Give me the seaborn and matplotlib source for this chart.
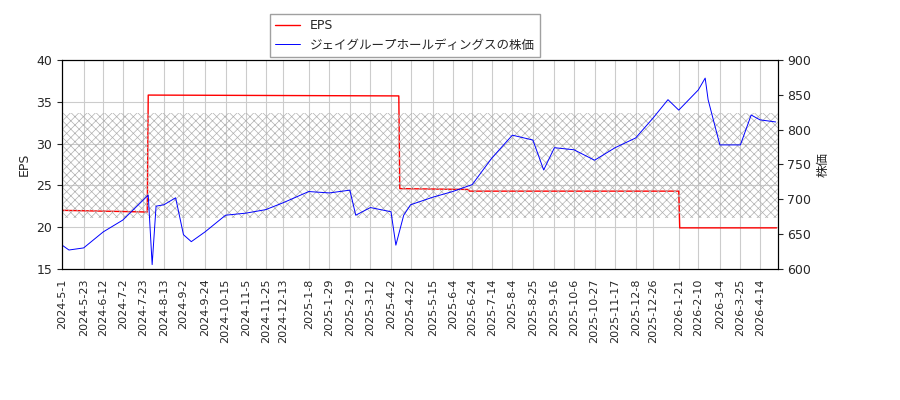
import pandas as pd
import matplotlib
matplotlib.use('Agg')
import matplotlib.pyplot as plt
import seaborn as sns

sns.set_style('white')
plt.rcParams['font.family'] = ['DejaVu Sans', 'Noto Sans CJK JP']
plt.rcParams['hatch.linewidth'] = 0.5

# EPS (step series)
eps_dates = ['2024-05-01', '2024-07-27', '2024-07-28', '2025-04-10', '2025-04-11', '2025-06-20',
             '2025-06-21', '2026-01-21', '2026-01-22', '2026-05-01']
eps_vals = [22.0, 21.8, 35.8, 35.7, 24.6, 24.5, 24.3, 24.3, 19.9, 19.9]

# share price
price_dates = ['2024-05-01', '2024-05-08', '2024-05-23', '2024-06-12', '2024-07-02', '2024-07-23',
               '2024-07-28', '2024-08-01', '2024-08-05', '2024-08-13', '2024-08-25', '2024-09-02',
               '2024-09-10', '2024-09-24', '2024-10-15', '2024-11-05', '2024-11-25', '2024-12-13',
               '2025-01-08', '2025-01-29', '2025-02-19', '2025-02-25', '2025-03-12', '2025-04-02',
               '2025-04-07', '2025-04-15', '2025-04-22', '2025-05-15', '2025-06-04', '2025-06-24',
               '2025-07-14', '2025-08-04', '2025-08-25', '2025-09-05', '2025-09-16', '2025-10-06',
               '2025-10-27', '2025-11-17', '2025-12-08', '2025-12-26', '2026-01-10', '2026-01-21',
               '2026-02-10', '2026-02-17', '2026-02-20', '2026-03-04', '2026-03-25', '2026-04-05',
               '2026-04-14', '2026-04-30']
price_vals = [634, 627, 630, 653, 670, 699, 706, 606, 690, 692, 702, 649, 639, 653, 677, 680,
              685, 695, 711, 709, 713, 677, 688, 682, 634, 677, 692, 703, 711, 721, 759, 792,
              785, 742, 774, 771, 756, 774, 788, 817, 843, 828, 857, 874, 843, 778, 778, 821,
              814, 811]

tick_labels = ['2024-5-1', '2024-5-23', '2024-6-12', '2024-7-2', '2024-7-23', '2024-8-13', '2024-9-2',
               '2024-9-24', '2024-10-15', '2024-11-5', '2024-11-25', '2024-12-13', '2025-1-8',
               '2025-1-29', '2025-2-19', '2025-3-12', '2025-4-2', '2025-4-22', '2025-5-15', '2025-6-4',
               '2025-6-24', '2025-7-14', '2025-8-4', '2025-8-25', '2025-9-16', '2025-10-6',
               '2025-10-27', '2025-11-17', '2025-12-8', '2025-12-26', '2026-1-21', '2026-2-10',
               '2026-3-4', '2026-3-25', '2026-4-14']

eps = pd.DataFrame({'date': pd.to_datetime(eps_dates), 'EPS': eps_vals})
price = pd.DataFrame({'date': pd.to_datetime(price_dates), 'price': price_vals})
ticks = pd.to_datetime(tick_labels)

fig = plt.figure(figsize=(9, 4), dpi=100)
ax1 = fig.add_axes([0.069, 0.328, 0.795, 0.522])
ax2 = ax1.twinx()

x0, x1 = pd.Timestamp('2024-05-01'), pd.Timestamp('2026-05-02')
ax2.fill_between([x0, x1], 673, 824, facecolor='none', edgecolor='#b0b0b0', hatch='xxxx', linewidth=0)

sns.lineplot(data=eps, x='date', y='EPS', ax=ax1, color='red', linewidth=1, label='EPS', legend=False)
sns.lineplot(data=price, x='date', y='price', ax=ax2, color='blue', linewidth=0.7,
             label='ジェイグループホールディングスの株価', legend=False)

ax1.set_xlim(x0, x1)
ax1.set_ylim(15, 40)
ax2.set_ylim(600, 900)
ax1.set_xticks(ticks)
ax1.set_xticklabels(tick_labels, rotation=90, fontsize=8)
ax1.tick_params(axis='y', labelsize=9)
ax2.tick_params(axis='y', labelsize=9)
ax1.grid(True, color='#cccccc', linewidth=0.8)
ax1.set_xlabel('')
ax1.set_ylabel('EPS', fontsize=9)
ax2.set_ylabel('株価', fontsize=9)
for a in (ax1, ax2):
    for s in a.spines.values():
        s.set_color('black')
        s.set_linewidth(0.8)

h1, l1 = ax1.get_legend_handles_labels()
h2, l2 = ax2.get_legend_handles_labels()
fig.legend(h1 + h2, l1 + l2, loc='upper center', bbox_to_anchor=(0.45, 0.98), fontsize=9,
           fancybox=False, edgecolor='#888888')

fig.savefig('out.png')
